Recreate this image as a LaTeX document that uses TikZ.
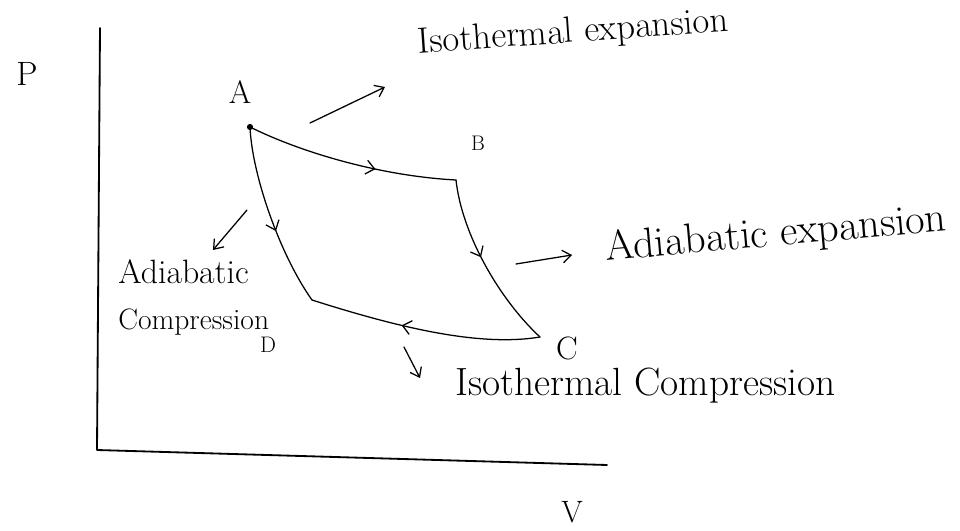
\documentclass[tikz,border=0pt]{standalone}
\usetikzlibrary{arrows.meta,decorations.markings}
\tikzset{
  midarrow/.style={postaction={decorate},decoration={markings,
    mark=at position #1 with {\arrow[line width=0.9pt]{Straight Barb[length=6pt,width=10pt]}}}},
  label/.style={font=\fontsize{20}{24}\selectfont,inner sep=0pt},
  pointer/.style={->,line width=0.9pt}
}
\begin{document}
\begin{tikzpicture}[x=0.025cm,y=-0.025cm,line join=round,line cap=round,>={Straight Barb[length=6pt,width=9pt]}]
\useasboundingbox (0,0) rectangle (960,531);
% axes
\coordinate (O) at (97,450);
\coordinate (ytop) at (100,28);
\coordinate (xend) at (607,465);
\draw[line width=1.3pt] (ytop) -- (O) -- (xend);
\node[label,font=\fontsize{24}{28}\selectfont] (P) at (27,74) {P};
\node[label,font=\fontsize{22}{26}\selectfont] (V) at (572,512) {V};
% corners of the cycle
\coordinate (A) at (250,127);
\coordinate (B) at (456,180);
\coordinate (C) at (540,337);
\coordinate (D) at (312,300);
\fill (A) circle(2.2pt);
\node[label,font=\fontsize{23}{28}\selectfont] (lA) at (240,92) {A};
\node[label,font=\fontsize{15}{18}\selectfont] (lB) at (478,143) {B};
\node[label,font=\fontsize{23}{28}\selectfont] (lC) at (567,348) {C};
\node[label,font=\fontsize{16}{18}\selectfont] (lD) at (268,345) {D};
% the cycle
\draw[line width=0.9pt,midarrow=0.62] (A) .. controls (300,152) and (380,176) .. (B);
\draw[line width=0.9pt,midarrow=0.45] (B) .. controls (462,235) and (500,300) .. (C);
\draw[line width=0.9pt,midarrow=0.6] (C) .. controls (480,347) and (400,328) .. (D);
\draw[line width=0.9pt,midarrow=0.58] (A) .. controls (252,175) and (280,255) .. (D);
% labels of the processes
\node[label,font=\fontsize{26}{30}\selectfont,rotate=4,anchor=west] (isoexp) at (418,44) {Isothermal expansion};
\node[label,font=\fontsize{30}{34}\selectfont,rotate=5,anchor=west] (adexp) at (605,250) {Adiabatic expansion};
\node[label,font=\fontsize{24}{30}\selectfont,anchor=west] (adcomp1) at (118,272) {Adiabatic};
\node[label,font=\fontsize{21}{24}\selectfont,anchor=west] (adcomp2) at (118,322) {Compression};
\node[label,font=\fontsize{28}{32}\selectfont,anchor=west] (isocomp) at (455,386) {Isothermal Compression};
\coordinate (p1) at (310,123); \coordinate (q1) at (385,87);
\coordinate (p2) at (516,264); \coordinate (q2) at (572,255);
\coordinate (p3) at (247,210); \coordinate (q3) at (213,250);
\coordinate (p4) at (404,347); \coordinate (q4) at (420,378);
\foreach \i in {1,...,4} \draw[pointer] (p\i) -- (q\i);
\end{tikzpicture}
\end{document}
